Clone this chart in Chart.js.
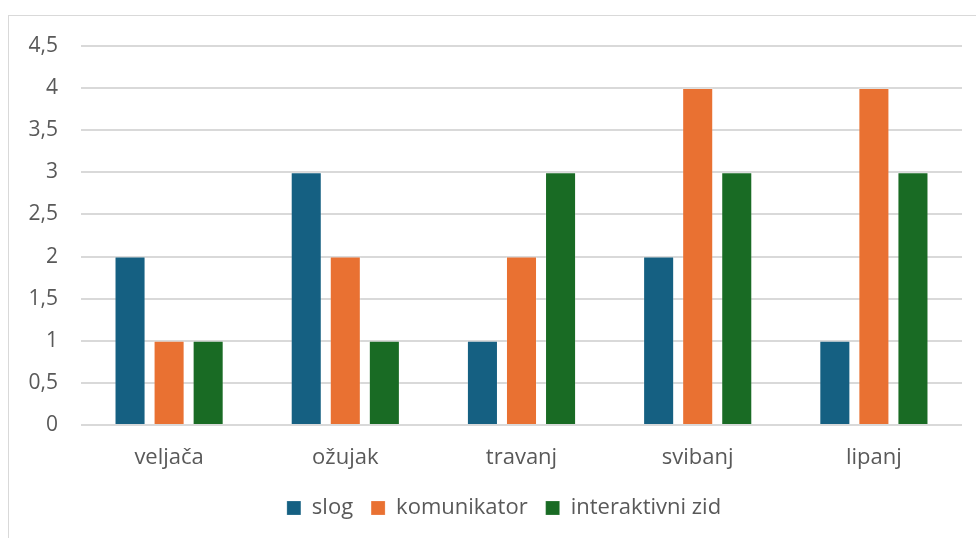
<!DOCTYPE html>
<html>
<head>
<meta charset="utf-8">
<script src="https://cdn.jsdelivr.net/npm/chart.js@4.4.1/dist/chart.umd.min.js"></script>
<style>
    html, body { margin: 0; padding: 0; background: #fff; }
    body { width: 976px; height: 538px; position: relative; overflow: hidden; }
    .frame { position: absolute; left: 8px; top: 15px; width: 980px; height: 540px; border: 1px solid #d9d9d9; box-sizing: border-box; }
    #wrap { position: absolute; left: 0; top: 0; width: 976px; height: 538px; }
</style>
</head>
<body>
<div class="frame"></div>
<div id="wrap"><canvas id="chart"></canvas></div>
<script>
const categories = ['veljača', 'ožujak', 'travanj', 'svibanj', 'lipanj'];
const slog = [2, 3, 1, 2, 1];
const komunikator = [1, 2, 2, 4, 4];
const interaktivniZid = [1, 1, 3, 3, 3];
const seriesNames = ['slog', 'komunikator', 'interaktivni zid'];
const seriesColors = ['#156082', '#E97132', '#196B24'];

const fontFamily = '"Open Sans", sans-serif';
const textColor = '#595959';

// the reference legend sits a bit right of the canvas centre
const legendShift = {
    id: 'legendShift',
    afterLayout(chart) {
        if (chart.legend) {
            chart.legend.left += 23;
            chart.legend.right += 23;
        }
    }
};

const ctx = document.getElementById('chart');

new Chart(ctx, {
    type: 'bar',
    data: {
        labels: categories,
        datasets: [slog, komunikator, interaktivniZid].map((values, i) => ({
            label: seriesNames[i],
            data: values,
            backgroundColor: seriesColors[i],
            borderColor: 'rgba(255,255,255,0.2)',
            borderWidth: 1,
            barPercentage: 0.795,
            categoryPercentage: 0.665
        }))
    },
    options: {
        responsive: true,
        maintainAspectRatio: false,
        animation: false,
        layout: {
            padding: { top: 46, right: 14, left: 0, bottom: 9 }
        },
        scales: {
            x: {
                grid: { display: false, drawTicks: false },
                border: { display: false },
                ticks: {
                    color: textColor,
                    padding: 20,
                    font: { family: fontFamily, size: 22 }
                },
                afterFit: function(scale) { scale.height = 54; }
            },
            y: {
                min: 0,
                max: 4.5,
                grid: { color: '#d9d9d9', lineWidth: 2, drawTicks: false },
                border: { display: false },
                ticks: {
                    stepSize: 0.5,
                    color: textColor,
                    padding: 23,
                    font: { family: fontFamily, size: 21 },
                    callback: function(value) {
                        return String(value).replace('.', ',');
                    }
                },
                afterFit: function(scale) { scale.width = 81; }
            }
        },
        plugins: {
            legend: {
                position: 'bottom',
                labels: {
                    color: textColor,
                    boxWidth: 14,
                    boxHeight: 14,
                    padding: 18,
                    font: { family: fontFamily, size: 22 }
                }
            },
            tooltip: { enabled: false }
        }
    },
    plugins: [legendShift]
});
</script>
</body>
</html>
